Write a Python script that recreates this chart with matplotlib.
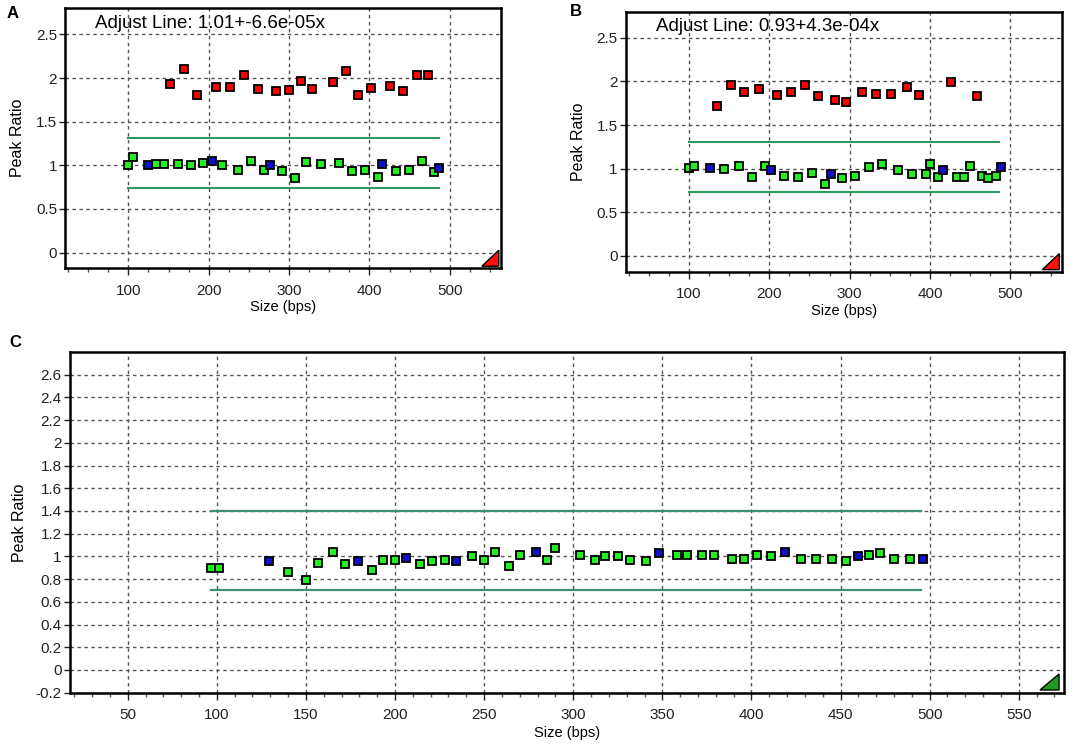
import numpy as np
import matplotlib
matplotlib.use("Agg")
import matplotlib.pyplot as plt
from matplotlib.patches import Polygon
from matplotlib.ticker import MultipleLocator, FixedLocator

plt.rcParams['font.family'] = ['Liberation Sans', 'DejaVu Sans']

# ---- panel A data ----
a_red_x = [152, 169, 185, 209, 226, 244, 261, 284, 300, 315, 329, 354, 371, 386, 402, 426, 442, 459, 473]
a_red_y = [1.93, 2.11, 1.81, 1.90, 1.90, 2.03, 1.88, 1.85, 1.86, 1.97, 1.88, 1.95, 2.08, 1.81, 1.89, 1.91, 1.85, 2.04, 2.03]
a_green_x = [100, 106, 135, 144, 162, 178, 193, 217, 236, 252, 269, 291, 307, 321, 340, 362, 378, 395, 410, 433, 449, 465, 480]
a_green_y = [1.00, 1.09, 1.02, 1.02, 1.02, 1.00, 1.03, 1.00, 0.95, 1.05, 0.95, 0.94, 0.85, 1.04, 1.02, 1.03, 0.94, 0.95, 0.87, 0.94, 0.95, 1.05, 0.92]
a_blue_x = [125, 204, 276, 416, 487]
a_blue_y = [1.00, 1.05, 1.00, 1.02, 0.97]
a_text = "Adjust Line: 1.01+-6.6e-05x"

# ---- panel B data ----
b_red_x = [135, 152, 169, 187, 209, 227, 244, 260, 282, 296, 315, 333, 351, 371, 386, 426, 459]
b_red_y = [1.72, 1.96, 1.88, 1.91, 1.84, 1.88, 1.96, 1.83, 1.79, 1.76, 1.88, 1.86, 1.86, 1.94, 1.84, 1.99, 1.83]
b_green_x = [100, 106, 144, 162, 179, 195, 218, 236, 253, 269, 291, 307, 324, 340, 360, 378, 395, 400, 410, 433, 442, 450, 465, 472, 482]
b_green_y = [1.01, 1.03, 1.00, 1.03, 0.91, 1.03, 0.92, 0.91, 0.95, 0.82, 0.89, 0.92, 1.02, 1.05, 0.98, 0.94, 0.94, 1.05, 0.91, 0.91, 0.91, 1.03, 0.92, 0.89, 0.92]
b_blue_x = [126, 202, 277, 416, 488]
b_blue_y = [1.01, 0.98, 0.94, 0.98, 1.02]
b_text = "Adjust Line: 0.93+4.3e-04x"

# ---- panel C data ----
c_green_x = [97, 101, 140, 150, 157, 165, 172, 187, 193, 200, 214, 221, 228, 243, 250, 256, 264, 270, 285, 290,
             304, 312, 318, 325, 332, 341, 358, 364, 372, 379, 389, 396, 403, 411, 428, 436, 445, 453, 466, 472, 480, 489]
c_green_y = [0.90, 0.90, 0.86, 0.79, 0.94, 1.04, 0.93, 0.88, 0.97, 0.97, 0.93, 0.96, 0.97, 1.00, 0.97, 1.04, 0.92, 1.01, 0.97, 1.07,
             1.01, 0.97, 1.00, 1.00, 0.97, 0.96, 1.01, 1.01, 1.01, 1.01, 0.98, 0.98, 1.01, 1.00, 0.98, 0.98, 0.98, 0.96, 1.01, 1.03, 0.98, 0.98]
c_blue_x = [129, 179, 206, 234, 279, 348, 419, 460, 496]
c_blue_y = [0.96, 0.96, 0.99, 0.96, 1.04, 1.03, 1.04, 1.00, 0.98]

# threshold lines: (low, high, x start, x end)
ab_limits = (0.735, 1.31, 100, 486)
c_limits = (0.70, 1.40, 97, 495)

W, H = 1084, 748
fig = plt.figure(figsize=(W / 100, H / 100), dpi=100)

def px_axes(left, top, right, bottom):
    return fig.add_axes([left / W, 1 - bottom / H, (right - left) / W, (bottom - top) / H])

grid_kw = dict(color='#555555', linestyle=(0, (2.5, 2.5)), linewidth=1.0)
line_color = '#2e9a62'

def style(ax, xlim, ylim, xmaj, xmin, ymaj, ylabels, xpad):
    ax.set_xlim(*xlim)
    ax.set_ylim(*ylim)
    ax.xaxis.set_major_locator(FixedLocator(xmaj))
    ax.xaxis.set_minor_locator(MultipleLocator(xmin))
    ax.yaxis.set_major_locator(FixedLocator(ymaj))
    ax.set_yticklabels(ylabels)
    ax.grid(True, which='major', **grid_kw)
    ax.set_axisbelow(True)
    for s in ax.spines.values():
        s.set_linewidth(1.8)
        s.set_color('black')
    ax.tick_params(axis='x', which='major', length=5, width=1, pad=xpad, labelsize=11, colors='#222222')
    ax.tick_params(axis='x', which='minor', length=3, width=1, color='#555555')
    ax.tick_params(axis='y', which='major', length=4, width=1, pad=2, labelsize=11, colors='#222222')
    ax.set_xlabel('Size (bps)', fontsize=10.5)
    ax.set_ylabel('Peak Ratio', fontsize=11.5)

def corner_triangle(ax, color, wpx, hpx, box_w, box_h):
    fw, fh = wpx / box_w, hpx / box_h
    tri = Polygon([[0.995, 0.008], [0.995 - fw, 0.008], [0.995, 0.008 + fh]], closed=True,
                  facecolor=color, edgecolor='black', linewidth=1.0, transform=ax.transAxes, zorder=5)
    ax.add_patch(tri)

def squares(ax, x, y, color, ms):
    ax.plot(x, y, linestyle='none', marker='s', markersize=ms, markerfacecolor=color,
            markeredgecolor='black', markeredgewidth=1.3, zorder=4)

ab_yticks = [0, 0.5, 1, 1.5, 2, 2.5]
ab_ylabels = ['0', '0.5', '1', '1.5', '2', '2.5']

panels = [
    ('A', (65.4, 8.3, 501, 268.3), a_red_x, a_red_y, a_green_x, a_green_y, a_blue_x, a_blue_y, a_text, (13, 13)),
    ('B', (626, 11.7, 1061.5, 271.7), b_red_x, b_red_y, b_green_x, b_green_y, b_blue_x, b_blue_y, b_text, (576, 12)),
]

for tag, box, rx, ry, gx, gy, bx, by, txt, tagpos in panels:
    ax = px_axes(*box)
    bw, bh = box[2] - box[0], box[3] - box[1]
    style(ax, (21.7, 563.6), (-0.18, 2.8), [100, 200, 300, 400, 500], 25, ab_yticks, ab_ylabels, 6)
    lo, hi, x0, x1 = ab_limits
    ax.plot([x0, x1], [hi, hi], color=line_color, linewidth=1.5, zorder=3)
    ax.plot([x0, x1], [lo, lo], color=line_color, linewidth=1.5, zorder=3)
    squares(ax, rx, ry, '#ff0000', 5.6)
    squares(ax, gx, gy, '#22ee22', 5.6)
    squares(ax, bx, by, '#1010cc', 5.6)
    ax.text(0.069, 0.943, txt, transform=ax.transAxes, fontsize=13.5, va='center', ha='left')
    corner_triangle(ax, '#ff1010', 17, 16, bw, bh)
    ax.xaxis.set_label_coords(0.5, -32 / bh)
    ax.yaxis.set_label_coords(-40 / bw, 0.5)
    fig.text(tagpos[0] / W, 1 - tagpos[1] / H, tag, fontsize=12, fontweight='bold', ha='center', va='center')

# panel C
boxc = (70, 352, 1064, 692.7)
axc = px_axes(*boxc)
bw, bh = boxc[2] - boxc[0], boxc[3] - boxc[1]
c_yticks = [round(v, 1) for v in np.arange(-0.2, 2.61, 0.2)]
c_ylabels = ['%g' % v for v in c_yticks]
style(axc, (17.6, 575.4), (-0.2, 2.8), list(range(50, 551, 50)), 10, c_yticks, c_ylabels, 6)
lo, hi, x0, x1 = c_limits
axc.plot([x0, x1], [hi, hi], color='#3f8f72', linewidth=1.6, zorder=3)
axc.plot([x0, x1], [lo, lo], color='#3f8f72', linewidth=1.6, zorder=3)
squares(axc, c_green_x, c_green_y, '#22ee22', 5.2)
squares(axc, c_blue_x, c_blue_y, '#1010cc', 5.2)
corner_triangle(axc, '#1f9a1f', 19, 16, bw, bh)
axc.xaxis.set_label_coords(0.5, -33 / bh)
axc.yaxis.set_label_coords(-43 / bw, 0.5)
fig.text(15 / W, 1 - 343 / H, 'C', fontsize=12, fontweight='bold', ha='center', va='center')

fig.savefig('out.png', dpi=100)
